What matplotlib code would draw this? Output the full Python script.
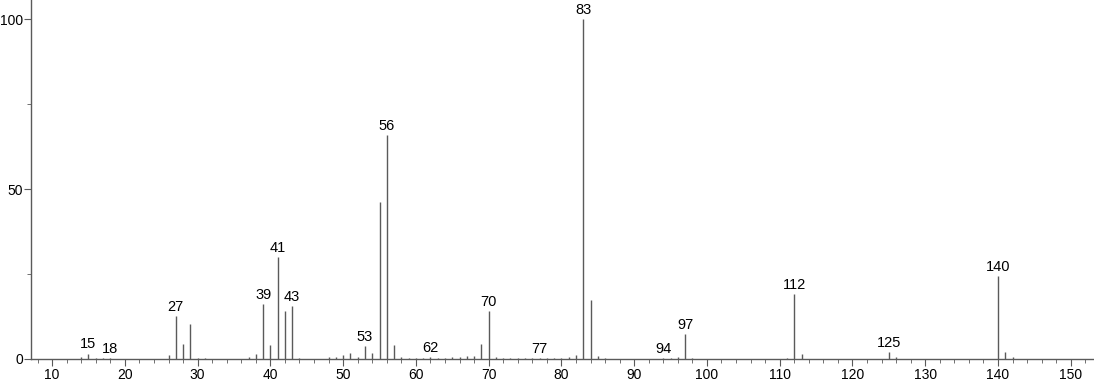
import matplotlib
matplotlib.use('Agg')
import matplotlib.pyplot as plt
from matplotlib.ticker import MultipleLocator

plt.rcParams['font.family'] = ['Liberation Sans', 'DejaVu Sans']

# m/z values and relative intensities (%)
mz = [14, 15, 16, 17, 18, 26, 27, 28, 29, 30, 31, 37, 38, 39, 40, 41, 42, 43, 44,
      48, 49, 50, 51, 52, 53, 54, 55, 56, 57, 58, 59, 60, 61, 62, 63, 64, 65, 66,
      67, 68, 69, 70, 71, 72, 73, 74, 75, 76, 77, 78, 79, 80, 81, 82, 83, 84, 85,
      86, 94, 95, 96, 97, 98, 111, 112, 113, 125, 126, 140, 141, 142]
intensity = [0.7, 1.6, 0.2, 0.3, 0.4, 1.2, 12.7, 4.5, 10.4, 0.4, 0.3, 0.5, 1.6,
             16.2, 4.0, 29.9, 14.1, 15.5, 0.3, 0.5, 0.5, 1.2, 1.7, 0.7, 3.8, 1.7,
             46.3, 66.0, 4.2, 0.5, 0.3, 0.2, 0.3, 0.5, 0.4, 0.2, 0.5, 0.6, 0.8,
             1.0, 4.5, 14.2, 0.6, 0.3, 0.3, 0.2, 0.3, 0.2, 0.4, 0.2, 0.4, 0.3, 0.5,
             1.2, 100.0, 17.4, 1.0, 0.3, 0.4, 0.4, 0.5, 7.4, 0.4, 0.3, 19.1, 1.5,
             2.1, 0.5, 24.4, 2.2, 0.5]
labelled = [15, 18, 27, 39, 41, 43, 53, 56, 62, 70, 77, 83, 94, 97, 112, 125, 140]

fig = plt.figure(figsize=(10.94, 3.84), dpi=100)
ax = fig.add_axes([31 / 1094, 25 / 384, 1 - 31 / 1094, 359 / 384])

ax.vlines(mz, 0, intensity, color='#5a5a5a', linewidth=1.0)
peaks = dict(zip(mz, intensity))
for m in labelled:
    ax.annotate(str(m), (m, peaks[m]), xytext=(0, 1.5), textcoords='offset points',
                ha='center', va='bottom', fontsize=10.5)

ax.set_xlim(7.1, 153.2)
ax.set_ylim(0, 105.7)
ax.xaxis.set_major_locator(MultipleLocator(10))
ax.xaxis.set_minor_locator(MultipleLocator(2))
ax.yaxis.set_major_locator(MultipleLocator(50))
ax.yaxis.set_minor_locator(MultipleLocator(25))

for side in ['top', 'right']:
    ax.spines[side].set_visible(False)
for side in ['left', 'bottom']:
    ax.spines[side].set_color('#5a5a5a')
    ax.spines[side].set_linewidth(1.0)
ax.tick_params(which='major', length=5, color='#5a5a5a', labelsize=10, pad=1.5)
ax.tick_params(axis='y', which='major', length=5, pad=0.5)
ax.tick_params(which='minor', length=3, color='#5a5a5a')

fig.savefig('out.png', dpi=100)
